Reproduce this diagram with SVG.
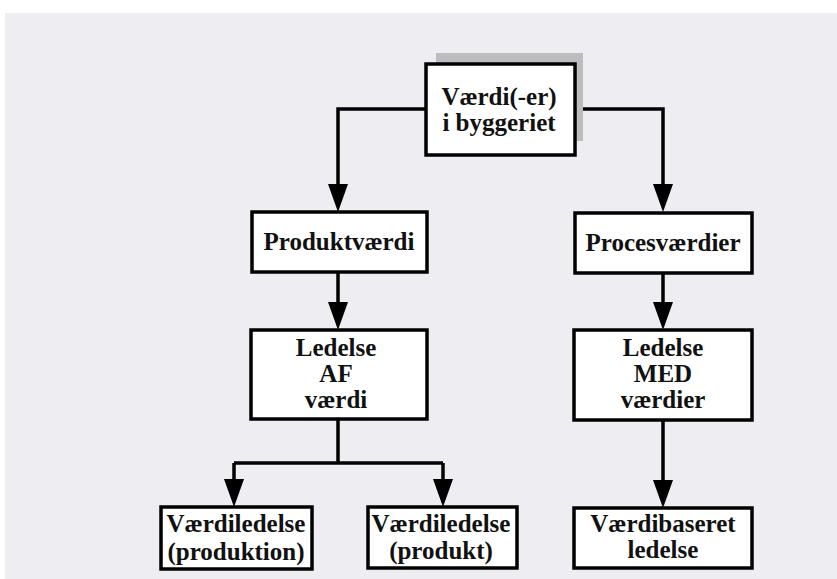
<svg xmlns="http://www.w3.org/2000/svg" width="837" height="579" viewBox="0 0 837 579">
<defs>
<style>
.box{fill:#fff;stroke:#000;stroke-width:3.5}
.t{font-family:"Liberation Serif","Times New Roman",serif;font-weight:bold;font-size:25px;text-anchor:middle;fill:#111}
.c{fill:none;stroke:#000;stroke-width:3.5}
.a{fill:#000}
</style>
</defs>
<rect x="0" y="0" width="837" height="579" fill="#ffffff"/>
<rect x="5" y="13" width="832" height="566" fill="#eeedf1"/>
<g id="connectors">
<path class="c" d="M425,109 H338 V184"/>
<path class="c" d="M575,109 H663 V184"/>
<polygon class="a" points="328,184 348,184 338,212"/>
<polygon class="a" points="653,184 673,184 663,212"/>
<path class="c" d="M338,272 V302"/>
<polygon class="a" points="328,302 348,302 338,330"/>
<path class="c" d="M663,273 V302"/>
<polygon class="a" points="653,302 673,302 663,330"/>
<path class="c" d="M338,419 V463 M234,463 H443 M234,463 V479 M443,463 V479"/>
<polygon class="a" points="224,479 244,479 234,507"/>
<polygon class="a" points="433,479 453,479 443,507"/>
<path class="c" d="M663,420 V480"/>
<polygon class="a" points="653,480 673,480 663,508"/>
</g>
<g id="n-top">
<rect x="436" y="53" width="147" height="88" fill="#bdbdc0"/>
<rect class="box" x="426" y="64" width="149" height="91"/>
<text class="t" x="499" y="105">Værdi(-er)</text>
<text class="t" x="499" y="131">i byggeriet</text>
</g>
<g id="n-produktvaerdi">
<rect class="box" x="252" y="212" width="175" height="60"/>
<text class="t" x="339" y="250">Produktværdi</text>
</g>
<g id="n-procesvaerdier">
<rect class="box" x="575" y="213" width="177" height="60"/>
<text class="t" x="663" y="251">Procesværdier</text>
</g>
<g id="n-ledelse-af">
<rect class="box" x="251" y="330" width="176" height="89"/>
<text class="t" x="336" y="356">Ledelse</text>
<text class="t" x="336" y="382">AF</text>
<text class="t" x="336" y="408">værdi</text>
</g>
<g id="n-ledelse-med">
<rect class="box" x="574" y="330" width="178" height="90"/>
<text class="t" x="663" y="356">Ledelse</text>
<text class="t" x="663" y="382">MED</text>
<text class="t" x="663" y="408">værdier</text>
</g>
<g id="n-vl-produktion">
<rect class="box" x="161" y="507" width="151" height="62"/>
<text class="t" x="236" y="532">Værdiledelse</text>
<text class="t" x="236" y="560">(produktion)</text>
</g>
<g id="n-vl-produkt">
<rect class="box" x="368" y="507" width="149" height="61"/>
<text class="t" x="441" y="532">Værdiledelse</text>
<text class="t" x="441" y="559">(produkt)</text>
</g>
<g id="n-vaerdibaseret">
<rect class="box" x="574" y="508" width="178" height="60"/>
<text class="t" x="663" y="532">Værdibaseret</text>
<text class="t" x="663" y="558">ledelse</text>
</g>
</svg>
